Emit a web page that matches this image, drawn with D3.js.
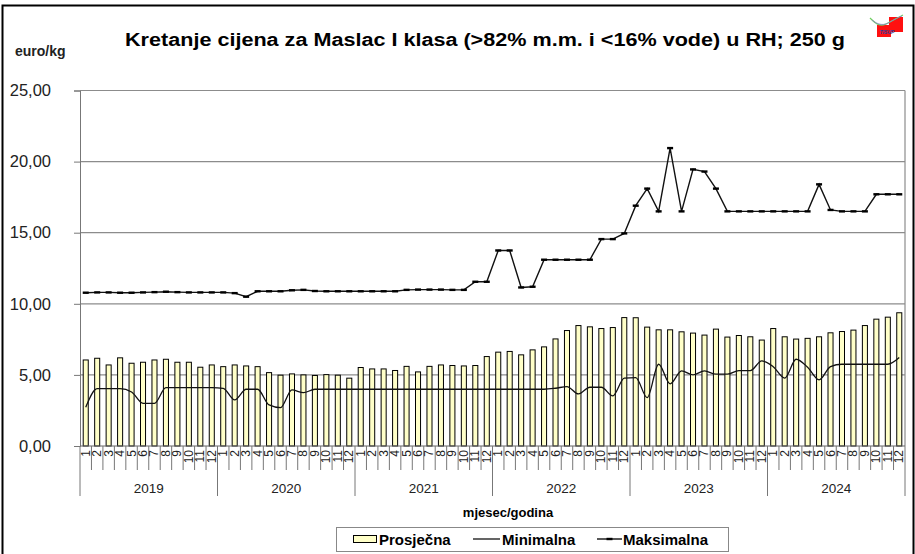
<!DOCTYPE html>
<html>
<head>
<meta charset="utf-8">
<script src="https://cdn.jsdelivr.net/npm/d3@7"></script>
<style>
  body { margin: 0; background: #fff; }
  text { font-family: "Liberation Sans", Arial, sans-serif; }
</style>
</head>
<body>
<script>
// mjeseci i godine
var years = ["2019", "2020", "2021", "2022", "2023", "2024"];
var monthLabels = ["1","2","3","4","5","6","7","8","9","10","11","12"];
var yTicks = [0, 5, 10, 15, 20, 25];

// euro/kg, jan 2019 - dec 2024
var prosjecna = [
  6.05, 6.17, 5.70, 6.20, 5.82, 5.89, 6.05, 6.10, 5.89, 5.89, 5.54, 5.70,
  5.58, 5.70, 5.63, 5.58, 5.16, 4.98, 5.07, 5.00, 4.96, 5.02, 4.98, 4.77,
  5.52, 5.42, 5.42, 5.31, 5.60, 5.21, 5.60, 5.70, 5.66, 5.63, 5.66, 6.29,
  6.60, 6.65, 6.41, 6.76, 6.97, 7.53, 8.12, 8.47, 8.38, 8.26, 8.33, 9.03,
  9.02, 8.36, 8.17, 8.17, 8.03, 7.94, 7.80, 8.22, 7.66, 7.77, 7.68, 7.45,
  8.26, 7.68, 7.52, 7.57, 7.68, 7.96, 8.05, 8.15, 8.47, 8.92, 9.06, 9.37
];
var minimalna = [
  2.72, 4.03, 4.03, 4.03, 3.80, 3.00, 3.00, 4.10, 4.10, 4.10, 4.10, 4.10,
  4.05, 3.24, 3.99, 3.99, 2.89, 2.70, 3.94, 3.75, 3.99, 3.99, 3.99, 3.99,
  3.99, 3.99, 3.99, 3.99, 3.99, 3.99, 3.99, 3.99, 3.99, 3.99, 3.99, 3.99,
  3.99, 3.99, 3.99, 3.99, 3.99, 4.06, 4.18, 3.66, 4.13, 4.13, 3.52, 4.77,
  4.81, 3.40, 5.75, 4.37, 5.28, 5.00, 5.28, 5.05, 5.05, 5.30, 5.30, 5.99,
  5.58, 4.77, 6.10, 5.54, 4.65, 5.58, 5.75, 5.75, 5.75, 5.75, 5.75, 6.22
];
var maksimalna = [
  10.78, 10.80, 10.80, 10.78, 10.78, 10.80, 10.82, 10.85, 10.82, 10.80, 10.80, 10.80,
  10.80, 10.75, 10.50, 10.88, 10.88, 10.88, 10.95, 10.98, 10.90, 10.88, 10.88, 10.88,
  10.88, 10.88, 10.88, 10.88, 10.98, 11.00, 11.00, 11.00, 10.98, 10.98, 11.55, 11.55,
  13.75, 13.75, 11.15, 11.20, 13.10, 13.10, 13.10, 13.10, 13.10, 14.55, 14.55, 14.95,
  16.90, 18.10, 16.50, 20.95, 16.50, 19.45, 19.30, 18.10, 16.50, 16.50, 16.50, 16.50,
  16.50, 16.50, 16.50, 16.50, 18.40, 16.60, 16.50, 16.50, 16.50, 17.70, 17.70, 17.70
];

var W = 915, H = 554;
var pLeft = 80, pRight = 905, pTop = 90.5, pBottom = 446;

var svg = d3.select("body").append("svg")
    .attr("width", W)
    .attr("height", H);

// okvir
svg.append("rect")
    .attr("x", 2.5).attr("y", 5.5)
    .attr("width", 911).attr("height", 560)
    .attr("fill", "none").attr("stroke", "#000").attr("stroke-width", 2);

var idx = d3.range(prosjecna.length);
var x = d3.scaleBand().domain(idx).range([pLeft, pRight])
    .paddingInner(0.56).paddingOuter(0.28);
var y = d3.scaleLinear().domain([0, 25]).range([pBottom, pTop]);
var step = x.step();
var cx = function(i) { return x(i) + x.bandwidth() / 2; };

// mreza
svg.append("g").selectAll("line")
    .data(yTicks.filter(function(d) { return d > 0; }))
    .enter().append("line")
    .attr("x1", pLeft).attr("x2", pRight)
    .attr("y1", function(d) { return y(d); })
    .attr("y2", function(d) { return y(d); })
    .attr("stroke", "#8c8c8c").attr("stroke-width", 1.2);

svg.append("line")
    .attr("x1", pRight).attr("x2", pRight)
    .attr("y1", pTop).attr("y2", pBottom)
    .attr("stroke", "#8c8c8c").attr("stroke-width", 1.2);

// y os
var yAxis = d3.axisLeft(y)
    .tickValues(yTicks)
    .tickSize(6)
    .tickPadding(23)
    .tickFormat(function(d) { return d.toFixed(2).replace(".", ","); });
var gy = svg.append("g").attr("transform", "translate(" + pLeft + ",0)").call(yAxis);
gy.select(".domain").attr("stroke", "#777");
gy.selectAll(".tick line").attr("stroke", "#777");
gy.selectAll(".tick text")
    .style("font-size", "16.5px").attr("fill", "#222");

// stupci
svg.append("g").selectAll("rect")
    .data(prosjecna)
    .enter().append("rect")
    .attr("x", function(d, i) { return x(i); })
    .attr("y", function(d) { return y(d); })
    .attr("width", x.bandwidth())
    .attr("height", function(d) { return pBottom - y(d); })
    .attr("fill", "#ffffc8")
    .attr("stroke", "#000").attr("stroke-width", 1);

// x os
svg.append("line")
    .attr("x1", pLeft).attr("x2", pRight)
    .attr("y1", pBottom).attr("y2", pBottom)
    .attr("stroke", "#666").attr("stroke-width", 1.2);

var gx = svg.append("g");
gx.selectAll("line.m")
    .data(d3.range(prosjecna.length + 1))
    .enter().append("line")
    .attr("class", "m")
    .attr("x1", function(i) { return pLeft + i * step; })
    .attr("x2", function(i) { return pLeft + i * step; })
    .attr("y1", pBottom)
    .attr("y2", function(i) { return i % 12 === 0 ? 496 : 470; })
    .attr("stroke", "#777").attr("stroke-width", 1);

gx.selectAll("text.m")
    .data(idx)
    .enter().append("text")
    .attr("class", "m")
    .attr("transform", function(i) { return "translate(" + (cx(i) + 4) + ",450) rotate(-90)"; })
    .attr("text-anchor", "end")
    .style("font-size", "12px")
    .attr("fill", "#222")
    .text(function(i) { return monthLabels[i % 12]; });

gx.selectAll("text.y")
    .data(years)
    .enter().append("text")
    .attr("class", "y")
    .attr("x", function(d, k) { return pLeft + (k * 12 + 6) * step; })
    .attr("y", 493)
    .attr("text-anchor", "middle")
    .style("font-size", "13.5px")
    .attr("fill", "#222")
    .text(function(d) { return d; });

// linije
var minLine = d3.line()
    .x(function(d, i) { return cx(i); })
    .y(function(d) { return y(d); })
    .curve(d3.curveMonotoneX);
var maxLine = d3.line()
    .x(function(d, i) { return cx(i); })
    .y(function(d) { return y(d); });

svg.append("path")
    .datum(minimalna)
    .attr("d", minLine)
    .attr("fill", "none").attr("stroke", "#111").attr("stroke-width", 1.3);

svg.append("path")
    .datum(maksimalna)
    .attr("d", maxLine)
    .attr("fill", "none").attr("stroke", "#111").attr("stroke-width", 1.4);

svg.append("g").selectAll("rect")
    .data(maksimalna)
    .enter().append("rect")
    .attr("x", function(d, i) { return cx(i) - 3; })
    .attr("y", function(d) { return y(d) - 1.2; })
    .attr("width", 6).attr("height", 2.4)
    .attr("fill", "#000");

// naslovi
svg.append("text")
    .attr("x", 485).attr("y", 46)
    .attr("text-anchor", "middle")
    .style("font-size", "18px").style("font-weight", "bold")
    .attr("textLength", 720).attr("lengthAdjust", "spacingAndGlyphs")
    .text("Kretanje cijena za Maslac I klasa (>82% m.m. i <16% vode) u RH; 250 g");

svg.append("text")
    .attr("x", 15).attr("y", 56)
    .style("font-size", "14px").style("font-weight", "bold")
    .attr("fill", "#222")
    .text("euro/kg");

svg.append("text")
    .attr("x", 508).attr("y", 517)
    .attr("text-anchor", "middle")
    .style("font-size", "13px").style("font-weight", "bold")
    .text("mjesec/godina");

// legenda
var lg = svg.append("g");
lg.append("rect")
    .attr("x", 336.5).attr("y", 527.5)
    .attr("width", 392).attr("height", 24)
    .attr("fill", "#fff").attr("stroke", "#888").attr("stroke-width", 1);
lg.append("rect")
    .attr("x", 353.5).attr("y", 535.5)
    .attr("width", 23).attr("height", 7)
    .attr("fill", "#ffffc8").attr("stroke", "#000");
lg.append("text").attr("x", 379).attr("y", 545)
    .style("font-size", "15px").style("font-weight", "bold").text("Prosječna");
lg.append("line")
    .attr("x1", 473).attr("x2", 500).attr("y1", 539).attr("y2", 539)
    .attr("stroke", "#111").attr("stroke-width", 1.3);
lg.append("text").attr("x", 502).attr("y", 545)
    .style("font-size", "15px").style("font-weight", "bold").text("Minimalna");
lg.append("line")
    .attr("x1", 597).attr("x2", 622).attr("y1", 539).attr("y2", 539)
    .attr("stroke", "#111").attr("stroke-width", 1.4);
lg.append("rect")
    .attr("x", 606.5).attr("y", 537.8).attr("width", 6).attr("height", 2.4)
    .attr("fill", "#000");
lg.append("text").attr("x", 623).attr("y", 545)
    .style("font-size", "15px").style("font-weight", "bold").text("Maksimalna");

// logo
var logo = svg.append("g");
logo.append("rect").attr("x", 877).attr("y", 25).attr("width", 14).attr("height", 12).attr("fill", "#ff1010");
logo.append("rect").attr("x", 889).attr("y", 17).attr("width", 14).attr("height", 15).attr("fill", "#ff1010");
logo.append("path")
    .attr("d", "M870,18 C876,24 880,27 886,24 C892,21 897,18 903,15")
    .attr("fill", "none").attr("stroke", "#6fcf5f").attr("stroke-width", 1.2);
logo.append("path")
    .attr("d", "M872,20 C878,25 884,26 890,22 C895,19 899,17 902,16")
    .attr("fill", "none").attr("stroke", "#8a7fc9").attr("stroke-width", 0.8);
logo.append("text")
    .attr("x", 887).attr("y", 34)
    .attr("text-anchor", "middle")
    .style("font-size", "5px").style("font-style", "italic").style("font-weight", "bold")
    .attr("fill", "#2b3a9a")
    .text("TISUP");
</script>
</body>
</html>
